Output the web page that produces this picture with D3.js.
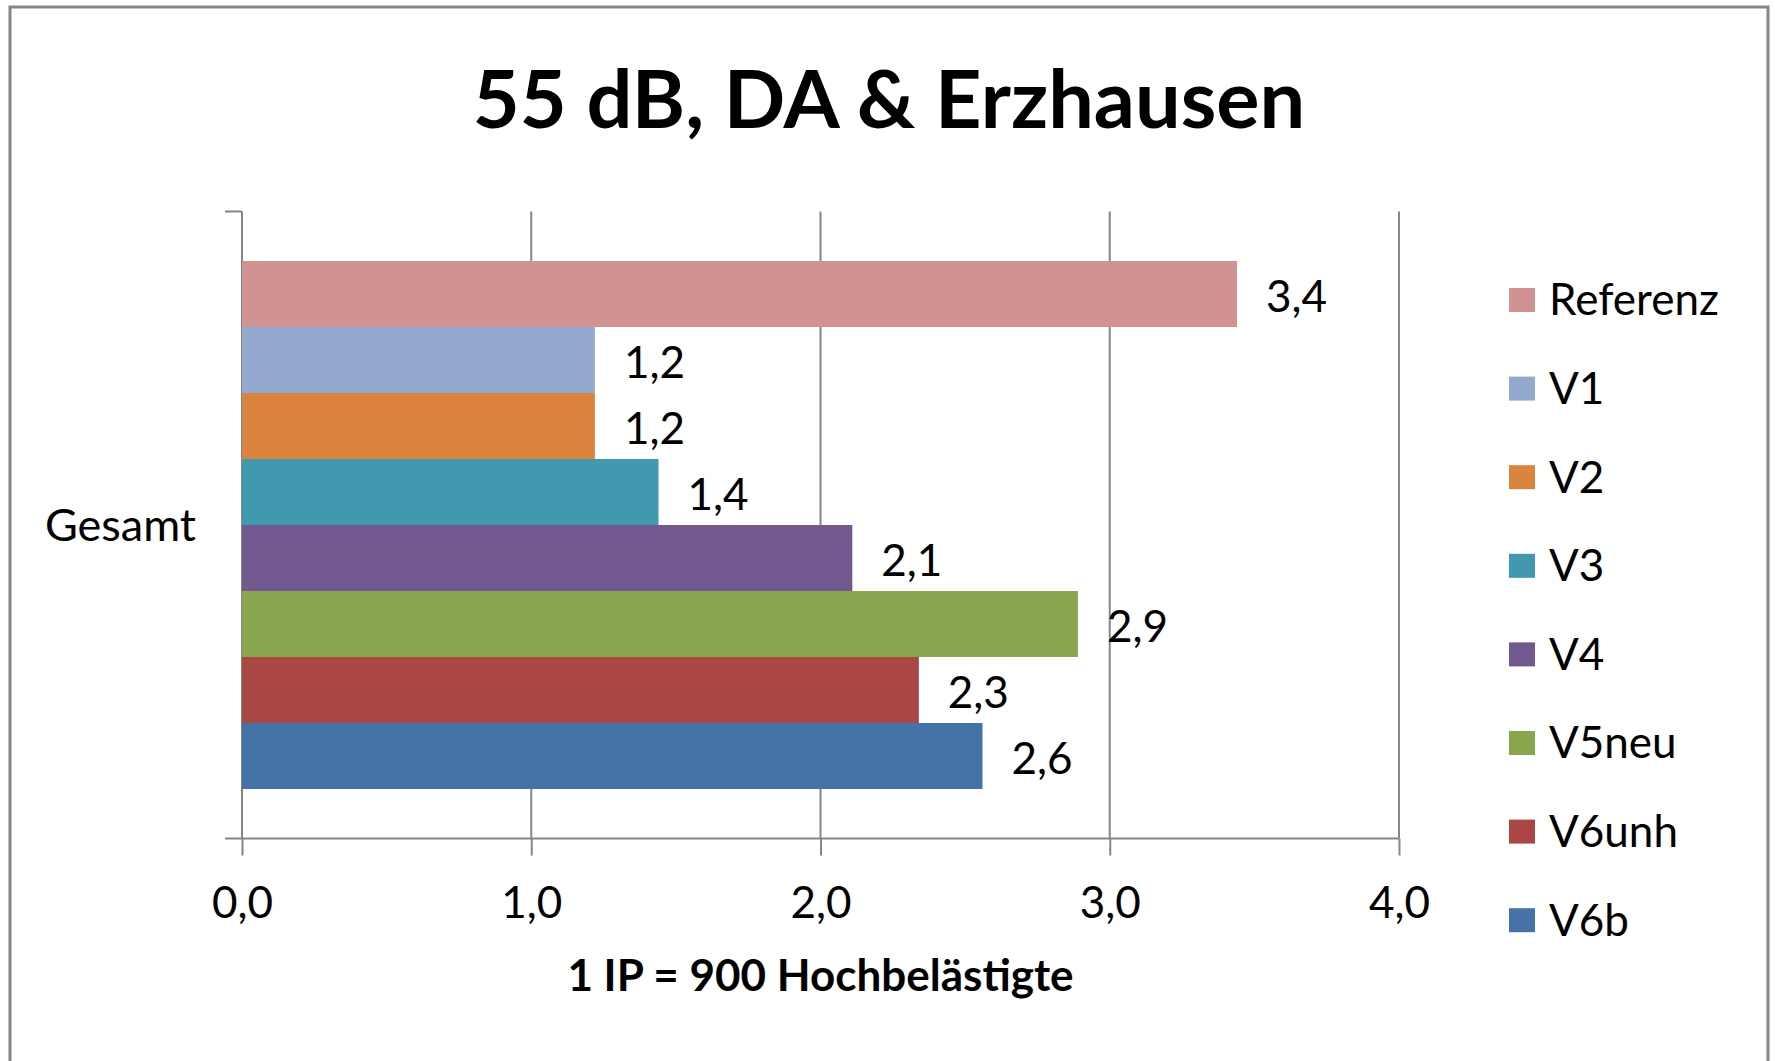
<!DOCTYPE html>
<html>
<head>
<meta charset="utf-8">
<script src="https://cdn.jsdelivr.net/npm/d3@7"></script>
<style>
  body { margin: 0; background: #fff; }
  text { font-family: Lato, "Noto Sans", sans-serif; fill: #000; }
</style>
</head>
<body>
<div id="chart"></div>
<script>
// data
var categories = ["Gesamt"];
var seriesNames = ["Referenz", "V1", "V2", "V3", "V4", "V5neu", "V6unh", "V6b"];
var seriesValues = [3.44, 1.22, 1.22, 1.44, 2.11, 2.89, 2.34, 2.56];
var seriesColors = ["#D19392", "#93A9CF", "#DB843D", "#4198AF", "#71588F", "#89A54E", "#AA4643", "#4572A7"];
var xTicks = [0, 1, 2, 3, 4];
var chartTitle = "55 dB, DA & Erzhausen";
var xAxisTitle = "1 IP = 900 Hochbelästigte";

var W = 1775, H = 1061;
var gridColor = "#868686";

function fmt(v) {
  return v.toFixed(1).replace(".", ",");
}

var svg = d3.select("#chart").append("svg")
  .attr("width", W)
  .attr("height", H);

svg.append("rect").attr("width", W).attr("height", H).attr("fill", "white");

// chart frame
svg.append("rect")
  .attr("x", 10).attr("y", 7)
  .attr("width", 1758).attr("height", 1080)
  .attr("fill", "none")
  .attr("stroke", gridColor)
  .attr("stroke-width", 3);

// *****************************************************************************
// scales
// *****************************************************************************
var plot = { left: 242, right: 1399, top: 211.5, bottom: 838.5 };

var x = d3.scaleLinear().domain([0, 4]).range([plot.left, plot.right]);

var yCat = d3.scaleBand().domain(categories).range([plot.top, plot.bottom]);

// gap width 150% of a bar, half of it on each side
var ySer = d3.scaleBand()
  .domain(seriesNames)
  .range([0, yCat.bandwidth()])
  .paddingOuter(0.75)
  .paddingInner(0);

// *****************************************************************************
// gridlines + axes
// *****************************************************************************
var xAxis = d3.axisBottom(x)
  .tickValues(xTicks)
  .tickSize(17)
  .tickSizeOuter(0)
  .tickFormat(fmt);

var gx = svg.append("g")
  .attr("transform", "translate(0," + plot.bottom + ")")
  .call(xAxis);
gx.select(".domain").remove();
gx.selectAll(".tick line").attr("stroke", gridColor).attr("stroke-width", 2);
gx.selectAll(".tick text")
  .attr("y", 64)
  .attr("dy", "0.35em")
  .style("font-size", "44px")
  .style("font-family", "Lato, 'Noto Sans', sans-serif")
  .attr("fill", "#000");

// vertical grid
svg.append("g").selectAll("line")
  .data(xTicks)
  .enter()
  .append("line")
  .attr("x1", function (d) { return x(d); })
  .attr("x2", function (d) { return x(d); })
  .attr("y1", plot.top)
  .attr("y2", plot.bottom)
  .attr("stroke", gridColor)
  .attr("stroke-width", 2);

// horizontal axis line, extending left into the category tick
svg.append("line")
  .attr("x1", plot.left - 17).attr("x2", plot.right)
  .attr("y1", plot.bottom).attr("y2", plot.bottom)
  .attr("stroke", gridColor).attr("stroke-width", 2);

// top category tick
svg.append("line")
  .attr("x1", plot.left - 17).attr("x2", plot.left)
  .attr("y1", plot.top).attr("y2", plot.top)
  .attr("stroke", gridColor).attr("stroke-width", 2);

// category label
svg.append("g").selectAll("text")
  .data(categories)
  .enter()
  .append("text")
  .attr("x", 196)
  .attr("y", function (d) { return yCat(d) + yCat.bandwidth() / 2; })
  .attr("dy", "0.35em")
  .attr("text-anchor", "end")
  .style("font-size", "45px")
  .text(function (d) { return d; });

// *****************************************************************************
// bars
// *****************************************************************************
var barData = seriesNames.map(function (name, i) {
  return { cat: categories[0], name: name, value: seriesValues[i], color: seriesColors[i] };
});

var gBars = svg.append("g");
gBars.selectAll("rect")
  .data(barData)
  .enter()
  .append("rect")
  .attr("x", x(0))
  .attr("y", function (d) { return yCat(d.cat) + ySer(d.name); })
  .attr("width", function (d) { return x(d.value) - x(0); })
  .attr("height", ySer.bandwidth())
  .attr("fill", function (d) { return d.color; });

gBars.selectAll("text")
  .data(barData)
  .enter()
  .append("text")
  .attr("x", function (d) { return x(d.value) + 29; })
  .attr("y", function (d) { return yCat(d.cat) + ySer(d.name) + ySer.bandwidth() / 2 + 3; })
  .attr("dy", "0.35em")
  .style("font-size", "44px")
  .text(function (d) { return fmt(d.value); });

// *****************************************************************************
// titles
// *****************************************************************************
svg.append("text")
  .attr("x", 889)
  .attr("y", 128)
  .attr("text-anchor", "middle")
  .style("font-size", "81px")
  .style("font-weight", "bold")
  .text(chartTitle);

svg.append("text")
  .attr("x", (plot.left + plot.right) / 2)
  .attr("y", 976)
  .attr("dy", "0.35em")
  .attr("text-anchor", "middle")
  .style("font-size", "44px")
  .style("font-weight", "bold")
  .text(xAxisTitle);

// *****************************************************************************
// legend
// *****************************************************************************
var legend = svg.append("g").attr("transform", "translate(1509,300)");
var item = legend.selectAll("g")
  .data(barData)
  .enter()
  .append("g")
  .attr("transform", function (d, i) { return "translate(0," + i * 88.6 + ")"; });

item.append("rect")
  .attr("x", 0).attr("y", -12)
  .attr("width", 26).attr("height", 24)
  .attr("fill", function (d) { return d.color; });

item.append("text")
  .attr("x", 40)
  .attr("dy", "0.35em")
  .style("font-size", "44px")
  .text(function (d) { return d.name; });
</script>
</body>
</html>
